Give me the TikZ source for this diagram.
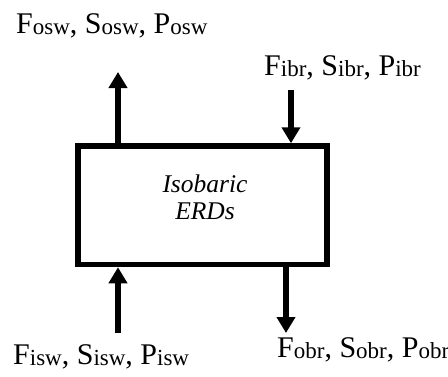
\documentclass[tikz,border=0pt]{standalone}
\usepackage{fontspec}
\setmainfont{Liberation Serif}
\usetikzlibrary{arrows.meta}
\newcommand{\flwsub}[2]{#1\raisebox{-1.5pt}{\fontsize{23}{23}\selectfont #2}}
\begin{document}
\begin{tikzpicture}[x=1pt,y=-1pt,
  flowarrow/.style={line width=5.5pt, -{Triangle[length=16pt,width=18pt]}},
  lab/.style={anchor=base west, inner sep=0pt, font=\fontsize{30}{34}\selectfont}]
\useasboundingbox (0,0) rectangle (448,376);
\node[draw, line width=5.5pt, minimum width=249pt, minimum height=118.5pt, inner sep=0pt] (erd) at (202.5,205.25) {};
\node[font=\fontsize{25.5}{27}\selectfont\itshape, align=center, inner sep=0pt] (name) at (205,197) {Isobaric\\ERDs};
\node[lab] (osw) at (16,33) {\flwsub{F}{osw}, \flwsub{S}{osw}, \flwsub{P}{osw}};
\node[lab] (ibr) at (264,75) {\flwsub{F}{ibr}, \flwsub{S}{ibr}, \flwsub{P}{ibr}};
\node[lab] (isw) at (13,364) {\flwsub{F}{isw}, \flwsub{S}{isw}, \flwsub{P}{isw}};
\node[lab] (obr) at (277,357) {\flwsub{F}{obr}, \flwsub{S}{obr}, \flwsub{P}{obr}};
\coordinate (oswtip) at (118,72);
\coordinate (ibrs) at (291,90);
\coordinate (isws) at (118,333);
\coordinate (obrt) at (286,333);
\draw[flowarrow] (erd.north -| oswtip) -- (oswtip);
\draw[flowarrow] (ibrs) -- (ibrs |- erd.north);
\draw[flowarrow] (isws) -- (isws |- erd.south);
\draw[flowarrow] (erd.south -| obrt) -- (obrt);
\end{tikzpicture}
\end{document}
